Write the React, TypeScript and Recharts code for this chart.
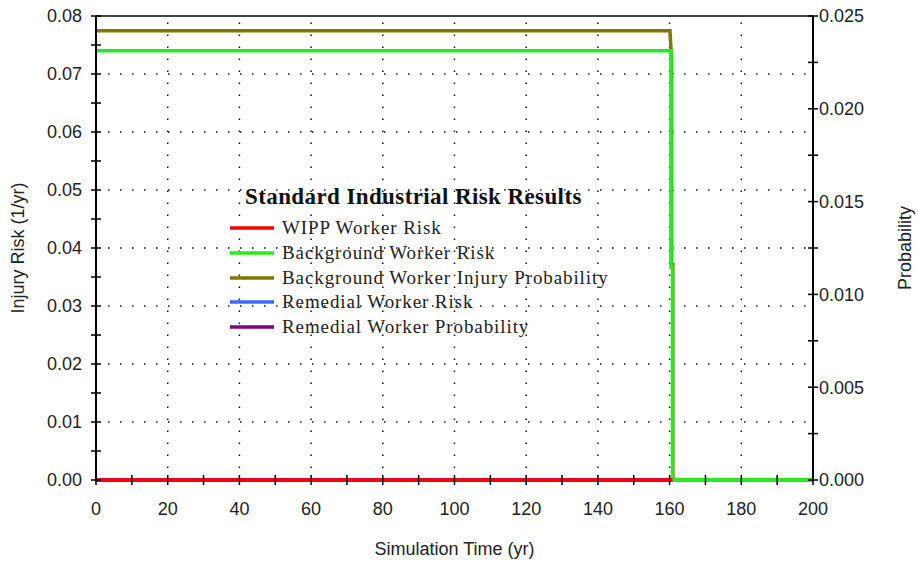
import React from 'react';
import { LineChart, Line, XAxis, YAxis, ReferenceLine, Legend, Label } from 'recharts';

// axis ticks (minor + major)
const timeTicks = [0, 10, 20, 30, 40, 50, 60, 70, 80, 90, 100, 110, 120, 130, 140, 150, 160, 170, 180, 190, 200];
const riskTicks = [0, 0.005, 0.01, 0.015, 0.02, 0.025, 0.03, 0.035, 0.04, 0.045, 0.05, 0.055, 0.06, 0.065, 0.07, 0.075, 0.08];
const probTicks = [0, 0.0025, 0.005, 0.0075, 0.01, 0.0125, 0.015, 0.0175, 0.02, 0.0225, 0.025];
const gridTimes = [20, 40, 60, 80, 100, 120, 140, 160, 180];
const gridRisks = [0.01, 0.02, 0.03, 0.04, 0.05, 0.06, 0.07];

// series
const wippTime = [0, 160.8];
const wippRisk = [0, 0];
const bgRiskTime = [0, 160.4, 160.4, 160.8, 160.8, 200];
const bgRisk = [0.074, 0.074, 0.0367, 0.0367, 0, 0];
const bgProbTime = [0, 160.1, 160.5, 160.5, 160.9, 160.9, 200];
const bgProb = [0.0242, 0.0242, 0.0228, 0.0116, 0.0116, 0, 0];
const remTime = [0, 160.8];
const remRisk = [0, 0];
const remProb = [0, 0];

const legendOrder = [
  'WIPP Worker Risk',
  'Background Worker Risk',
  'Background Worker Injury Probability',
  'Remedial Worker Risk',
  'Remedial Worker Probability',
];

const toRows = (t: number[], v: number[]) => t.map((x, i) => ({ t: x, v: v[i] }));

const axisFont = '"Liberation Sans", Arial, sans-serif';
const serifFont = '"Liberation Serif", "Times New Roman", serif';

const TimeTick = (props: any) => {
  const { x, y, payload } = props;
  const major = payload.value % 20 === 0;
  return (
    <g>
      <line x1={x} x2={x} y1={y - 5} y2={y + 5} stroke="#000" strokeWidth={1.5} />
      {major && (
        <text x={x} y={y + 35} textAnchor="middle" fontSize={18} fill="#222" fontFamily={axisFont}>
          {payload.value}
        </text>
      )}
    </g>
  );
};

const RiskTick = (props: any) => {
  const { x, y, payload } = props;
  const major = Math.round(payload.value * 1000) % 10 === 0;
  return (
    <g>
      <line x1={x - 5} x2={x + 5} y1={y} y2={y} stroke="#000" strokeWidth={1.5} />
      {major && (
        <text x={x - 14} y={y} dy="0.36em" textAnchor="end" fontSize={18} fill="#222" fontFamily={axisFont}>
          {payload.value.toFixed(2)}
        </text>
      )}
    </g>
  );
};

const ProbTick = (props: any) => {
  const { x, y, payload } = props;
  const major = Math.round(payload.value * 10000) % 50 === 0;
  return (
    <g>
      <line x1={x - 5} x2={x + 5} y1={y} y2={y} stroke="#000" strokeWidth={1.5} />
      {major && (
        <text x={x + 6} y={y} dy="0.36em" textAnchor="start" fontSize={18} fill="#222" fontFamily={axisFont}>
          {payload.value.toFixed(3)}
        </text>
      )}
    </g>
  );
};

const LegendBox = (props: any) => {
  const items = [...(props.payload || [])].sort(
    (a: any, b: any) => legendOrder.indexOf(a.value) - legendOrder.indexOf(b.value)
  );
  return (
    <div style={{ fontFamily: serifFont, color: '#222' }}>
      <div
        style={{
          fontWeight: 'bold',
          fontSize: 23,
          letterSpacing: 0.4,
          marginLeft: 15,
          marginBottom: 6,
          lineHeight: '26px',
          whiteSpace: 'nowrap',
          color: '#111',
        }}
      >
        Standard Industrial Risk Results
      </div>
      {items.map((it: any) => (
        <div key={it.value} style={{ display: 'flex', alignItems: 'center', height: 24.7 }}>
          <svg width={52} height={10}>
            <line x1={0} x2={44} y1={5} y2={5} stroke={it.color} strokeWidth={3.5} />
          </svg>
          <span style={{ fontSize: 19, letterSpacing: 0.9, whiteSpace: 'nowrap' }}>{it.value}</span>
        </div>
      ))}
    </div>
  );
};

export default function App() {
  return (
    <div style={{ position: 'absolute', left: 0, top: 0, background: '#fff' }}>
      <LineChart width={918} height={565} margin={{ top: 16, right: 25, bottom: 0, left: 0 }}>
        <XAxis
          xAxisId="time"
          dataKey="t"
          type="number"
          domain={[0, 200]}
          ticks={timeTicks}
          interval={0}
          tick={<TimeTick />}
          tickSize={0}
          tickMargin={0}
          height={85}
          axisLine={false}
        >
          <Label value="Simulation Time (yr)" position="center" dy={26} fontSize={18} fill="#222" fontFamily={axisFont} />
        </XAxis>
        <YAxis
          yAxisId="left"
          type="number"
          domain={[0, 0.08]}
          ticks={riskTicks}
          interval={0}
          tick={<RiskTick />}
          tickSize={0}
          tickMargin={0}
          width={96}
          axisLine={{ stroke: '#000', strokeWidth: 2 }}
        >
          <Label value="Injury Risk (1/yr)" angle={-90} position="center" dx={-30} fontSize={18} fill="#222" fontFamily={axisFont} />
        </YAxis>
        <YAxis
          yAxisId="right"
          orientation="right"
          type="number"
          domain={[0, 0.025]}
          ticks={probTicks}
          interval={0}
          tick={<ProbTick />}
          tickSize={0}
          tickMargin={0}
          width={80}
          axisLine={{ stroke: '#000', strokeWidth: 2 }}
        >
          <Label value="Probability" angle={-90} position="center" dx={52} fontSize={18} fill="#222" fontFamily={axisFont} />
        </YAxis>

        {gridTimes.map((g) => (
          <ReferenceLine key={'gx' + g} xAxisId="time" yAxisId="left" x={g} stroke="#111" strokeWidth={1.5} strokeDasharray="1.5 10.5" />
        ))}
        {gridRisks.map((g) => (
          <ReferenceLine key={'gy' + g} xAxisId="time" yAxisId="left" y={g} stroke="#111" strokeWidth={1.5} strokeDasharray="1.5 10.5" />
        ))}
        <ReferenceLine xAxisId="time" yAxisId="left" y={0.08} stroke="#444" strokeWidth={2} />
        <ReferenceLine xAxisId="time" yAxisId="left" y={0} stroke="#000" strokeWidth={2} />

        <Legend
          layout="horizontal"
          verticalAlign="middle"
          align="center"
          content={<LegendBox />}
          wrapperStyle={{ left: 230, top: 184, width: 420 }}
        />

        <Line
          xAxisId="time"
          yAxisId="left"
          data={toRows(remTime, remRisk)}
          dataKey="v"
          name="Remedial Worker Risk"
          stroke="#3a6bff"
          strokeWidth={3.5}
          dot={false}
          isAnimationActive={false}
        />
        <Line
          xAxisId="time"
          yAxisId="right"
          data={toRows(remTime, remProb)}
          dataKey="v"
          name="Remedial Worker Probability"
          stroke="#800080"
          strokeWidth={3.5}
          dot={false}
          isAnimationActive={false}
        />
        <Line
          xAxisId="time"
          yAxisId="right"
          data={toRows(bgProbTime, bgProb)}
          dataKey="v"
          name="Background Worker Injury Probability"
          stroke="#807800"
          strokeWidth={3.5}
          dot={false}
          isAnimationActive={false}
        />
        <Line
          xAxisId="time"
          yAxisId="left"
          data={toRows(bgRiskTime, bgRisk)}
          dataKey="v"
          name="Background Worker Risk"
          stroke="#1ef01e"
          strokeWidth={3.5}
          dot={false}
          isAnimationActive={false}
        />
        <Line
          xAxisId="time"
          yAxisId="left"
          data={toRows(wippTime, wippRisk)}
          dataKey="v"
          name="WIPP Worker Risk"
          stroke="#ff0000"
          strokeWidth={3.5}
          dot={false}
          isAnimationActive={false}
        />
      </LineChart>
    </div>
  );
}
